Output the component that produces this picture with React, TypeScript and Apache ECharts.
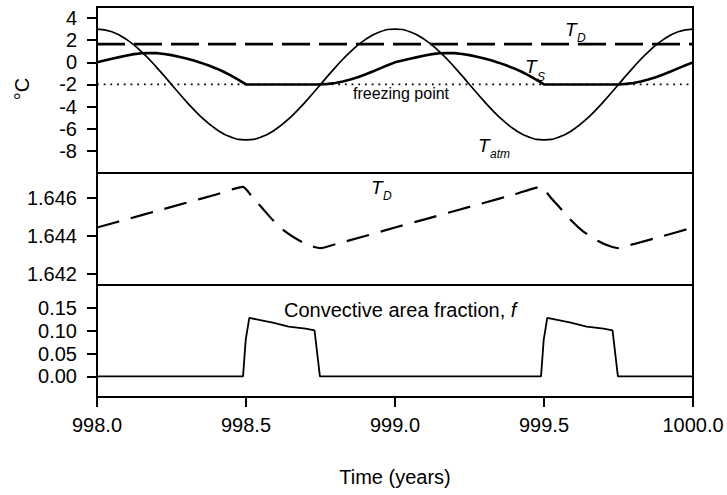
import React, { useEffect, useRef } from "react";
import * as echarts from "echarts";

// Time axis (years) for the atmospheric temperature curve
const years = [
  998.0, 998.05, 998.1, 998.15, 998.2, 998.25, 998.3, 998.35, 998.4, 998.45,
  998.5, 998.55, 998.6, 998.65, 998.7, 998.75, 998.8, 998.85, 998.9, 998.95,
  999.0, 999.05, 999.1, 999.15, 999.2, 999.25, 999.3, 999.35, 999.4, 999.45,
  999.5, 999.55, 999.6, 999.65, 999.7, 999.75, 999.8, 999.85, 999.9, 999.95,
  1000.0,
];

// Atmospheric temperature T_atm (°C)
const tAtm = [
  3, 2.76, 2.05, 0.94, -0.45, -2, -3.55, -4.94, -6.05, -6.76,
  -7, -6.76, -6.05, -4.94, -3.55, -2, -0.45, 0.94, 2.05, 2.76,
  3, 2.76, 2.05, 0.94, -0.45, -2, -3.55, -4.94, -6.05, -6.76,
  -7, -6.76, -6.05, -4.94, -3.55, -2, -0.45, 0.94, 2.05, 2.76,
  3,
];

// Time axis (years) for the surface temperature curve
const tsYears = [
  998.0, 998.025, 998.05, 998.075, 998.1, 998.125, 998.15, 998.175, 998.2, 998.225,
  998.25, 998.275, 998.3, 998.325, 998.35, 998.375, 998.4, 998.425, 998.45, 998.475,
  998.5, 998.525, 998.55, 998.575, 998.6, 998.625, 998.65, 998.675, 998.7, 998.725,
  998.75, 998.775, 998.8, 998.825, 998.85, 998.875, 998.9, 998.925, 998.95, 998.975,
  999.0, 999.025, 999.05, 999.075, 999.1, 999.125, 999.15, 999.175, 999.2, 999.225,
  999.25, 999.275, 999.3, 999.325, 999.35, 999.375, 999.4, 999.425, 999.45, 999.475,
  999.5, 999.525, 999.55, 999.575, 999.6, 999.625, 999.65, 999.675, 999.7, 999.725,
  999.75, 999.775, 999.8, 999.825, 999.85, 999.875, 999.9, 999.925, 999.95, 999.975,
  1000.0,
];

// Surface temperature T_S (°C)
const tS = [
  0, 0.16, 0.32, 0.47, 0.62, 0.74, 0.82, 0.85, 0.83, 0.76,
  0.65, 0.51, 0.35, 0.16, -0.05, -0.29, -0.55, -0.85, -1.2, -1.58,
  -2, -2, -2, -2, -2, -2, -2, -2, -2, -2,
  -2, -1.95, -1.86, -1.73, -1.56, -1.35, -1.1, -0.83, -0.55, -0.27,
  0, 0.16, 0.32, 0.47, 0.62, 0.74, 0.82, 0.85, 0.83, 0.76,
  0.65, 0.51, 0.35, 0.16, -0.05, -0.29, -0.55, -0.85, -1.2, -1.58,
  -2, -2, -2, -2, -2, -2, -2, -2, -2, -2,
  -2, -1.95, -1.86, -1.73, -1.56, -1.35, -1.1, -0.83, -0.55, -0.27,
  0,
];

// Freezing point (°C)
const freezeYears = [998.0, 1000.0];
const freezeVals = [-2, -2];

// Deep temperature T_D (°C)
const tdYears = [
  998.0, 998.1, 998.2, 998.3, 998.4, 998.49, 998.52, 998.55, 998.59, 998.63,
  998.68, 998.72, 998.75, 998.8, 998.9,
  999.0, 999.1, 999.2, 999.3, 999.4, 999.49, 999.52, 999.55, 999.59, 999.63,
  999.68, 999.72, 999.75, 999.8, 999.9, 1000.0,
];
const tdVals = [
  1.64443, 1.64486, 1.6453, 1.64573, 1.64617, 1.64657, 1.64605, 1.64553, 1.64482, 1.64424,
  1.64373, 1.64345, 1.64334, 1.64355, 1.64398,
  1.64443, 1.64486, 1.6453, 1.64573, 1.64617, 1.64657, 1.64605, 1.64553, 1.64482, 1.64424,
  1.64373, 1.64345, 1.64334, 1.64355, 1.64398, 1.64443,
];

// Convective area fraction f
const fYears = [
  998.0, 998.49, 998.499, 998.511, 998.59, 998.643, 998.7, 998.73, 998.748,
  999.49, 999.499, 999.511, 999.59, 999.643, 999.7, 999.73, 999.748, 1000.0,
];
const fVals = [
  0, 0, 0.08, 0.128, 0.1176, 0.1088, 0.1044, 0.1007, 0,
  0, 0.08, 0.128, 0.1176, 0.1088, 0.1044, 0.1007, 0, 0,
];

// Tick labels
const yTicks1 = [-8, -6, -4, -2, 0, 2, 4];
const yTicks2 = [1.642, 1.644, 1.646];
const yTicks3 = [0, 0.05, 0.1, 0.15];

const FONT = "'Liberation Sans', Arial, Helvetica, sans-serif";

const zip = (xs: number[], ys: number[]) => xs.map((x, i) => [x, ys[i]]);

export default function App() {
  const ref = useRef<HTMLDivElement>(null);

  useEffect(() => {
    document.body.style.margin = "0";
    if (!ref.current) return;
    const chart = echarts.init(ref.current, undefined, { renderer: "svg" });

    const gridBase = {
      left: 97,
      width: 596,
      show: true,
      borderColor: "#000",
      borderWidth: 2,
      backgroundColor: "transparent",
    };

    const yAxisBase = (gi: number, min: number, max: number, ticks: number[], dec: number) => ({
      type: "value",
      gridIndex: gi,
      min,
      max,
      splitLine: { show: false },
      axisLine: { show: true, onZero: false, lineStyle: { color: "#000", width: 2 } },
      axisTick: {
        show: true,
        length: 10,
        lineStyle: { color: "#000", width: 2 },
        customValues: ticks,
      },
      axisLabel: {
        show: true,
        margin: 20,
        color: "#000",
        fontSize: 20,
        fontFamily: FONT,
        customValues: ticks,
        formatter: (v: number) => v.toFixed(dec),
      },
    });

    const xHidden = (gi: number) => ({
      type: "value",
      gridIndex: gi,
      min: 998,
      max: 1000,
      axisLine: { show: false, onZero: false },
      axisTick: { show: false },
      axisLabel: { show: false },
      splitLine: { show: false },
    });

    const lineBase = {
      type: "line",
      showSymbol: false,
      symbol: "none",
      silent: true,
    };

    const subStyle = (text: string, size: number) => ({
      text,
      fontSize: size,
      fontStyle: "italic",
      fontFamily: FONT,
      fill: "#000",
      textAlign: "left",
      textVerticalAlign: "middle",
    });

    const option: any = {
      animation: false,
      backgroundColor: "#fff",
      grid: [
        { ...gridBase, top: 7, height: 166 },
        { ...gridBase, top: 173, height: 112 },
        { ...gridBase, top: 285, height: 112 },
        // strip under the bottom panel holding the x tick marks
        { left: 97, width: 596, top: 397, height: 10, show: false },
      ],
      xAxis: [
        xHidden(0),
        xHidden(1),
        {
          type: "value",
          gridIndex: 2,
          min: 998,
          max: 1000,
          interval: 0.5,
          position: "bottom",
          splitLine: { show: false },
          axisLine: { show: true, onZero: false, lineStyle: { color: "#000", width: 2 } },
          axisTick: { show: false },
          axisLabel: {
            margin: 18,
            color: "#000",
            fontSize: 20,
            fontFamily: FONT,
            formatter: (v: number) => v.toFixed(1),
          },
        },
        {
          type: "value",
          gridIndex: 3,
          min: 998,
          max: 1000,
          interval: 0.5,
          axisLine: { show: false, onZero: false },
          axisTick: { show: false },
          axisLabel: { show: false },
          splitLine: {
            show: true,
            showMinLine: true,
            showMaxLine: true,
            lineStyle: { color: "#000", width: 2, type: "solid" },
          },
        },
      ],
      yAxis: [
        yAxisBase(0, -10, 5, yTicks1, 0),
        yAxisBase(1, 1.6414, 1.6473, yTicks2, 3),
        yAxisBase(2, -0.045, 0.2, yTicks3, 2),
        {
          type: "value",
          gridIndex: 3,
          min: 0,
          max: 1,
          axisLine: { show: false },
          axisTick: { show: false },
          axisLabel: { show: false },
          splitLine: { show: false },
        },
      ],
      series: [
        {
          ...lineBase,
          name: "freezing point",
          xAxisIndex: 0,
          yAxisIndex: 0,
          data: zip(freezeYears, freezeVals),
          lineStyle: { color: "#000", width: 1.8, type: [1.8, 4.9] },
        },
        {
          ...lineBase,
          name: "T_atm",
          xAxisIndex: 0,
          yAxisIndex: 0,
          smooth: true,
          data: zip(years, tAtm),
          lineStyle: { color: "#000", width: 1.7 },
        },
        {
          ...lineBase,
          name: "T_S",
          xAxisIndex: 0,
          yAxisIndex: 0,
          smooth: false,
          data: zip(tsYears, tS),
          lineStyle: { color: "#000", width: 2.6, join: "round" },
        },
        {
          ...lineBase,
          name: "T_D",
          xAxisIndex: 0,
          yAxisIndex: 0,
          data: zip(tdYears, tdVals),
          lineStyle: { color: "#000", width: 2.6, type: [28, 9] },
        },
        {
          ...lineBase,
          name: "T_D detail",
          xAxisIndex: 1,
          yAxisIndex: 1,
          smooth: 0.2,
          data: zip(tdYears, tdVals),
          lineStyle: { color: "#000", width: 2.2, type: [23, 12] },
        },
        {
          ...lineBase,
          name: "f",
          xAxisIndex: 2,
          yAxisIndex: 2,
          data: zip(fYears, fVals),
          lineStyle: { color: "#000", width: 1.8 },
        },
      ],
      graphic: [
        {
          type: "text",
          x: 22,
          y: 89,
          rotation: Math.PI / 2,
          style: {
            text: "°C",
            fontSize: 20,
            fontFamily: FONT,
            fill: "#000",
            textAlign: "center",
            textVerticalAlign: "middle",
          },
        },
        {
          type: "text",
          x: 395,
          y: 477,
          style: {
            text: "Time (years)",
            fontSize: 20,
            fontFamily: FONT,
            fill: "#000",
            textAlign: "center",
            textVerticalAlign: "middle",
          },
        },
        {
          type: "text",
          x: 401,
          y: 93,
          style: {
            text: "freezing point",
            fontSize: 16,
            fontFamily: FONT,
            fill: "#000",
            textAlign: "center",
            textVerticalAlign: "middle",
          },
        },
        {
          type: "text",
          x: 284,
          y: 310,
          style: {
            text: "{a|Convective area fraction, }{b|f}",
            fontSize: 20,
            fontFamily: FONT,
            fill: "#000",
            textAlign: "left",
            textVerticalAlign: "middle",
            rich: {
              a: { fontSize: 20, fontFamily: FONT, fill: "#000" },
              b: { fontSize: 20, fontFamily: FONT, fontStyle: "italic", fill: "#000" },
            },
          },
        },
        // T_D (top panel)
        { type: "text", x: 565, y: 29, style: subStyle("T", 19) },
        { type: "text", x: 577, y: 38, style: subStyle("D", 12) },
        // T_S
        { type: "text", x: 525, y: 66.5, style: subStyle("T", 19) },
        { type: "text", x: 537, y: 77, style: subStyle("S", 12) },
        // T_atm
        { type: "text", x: 478, y: 145, style: subStyle("T", 19) },
        { type: "text", x: 490, y: 154, style: subStyle("atm", 12) },
        // T_D (middle panel)
        { type: "text", x: 371, y: 187, style: subStyle("T", 19) },
        { type: "text", x: 383, y: 196, style: subStyle("D", 12) },
      ],
    };

    chart.setOption(option);
    return () => chart.dispose();
  }, []);

  return <div ref={ref} style={{ width: 727, height: 495 }} />;
}
